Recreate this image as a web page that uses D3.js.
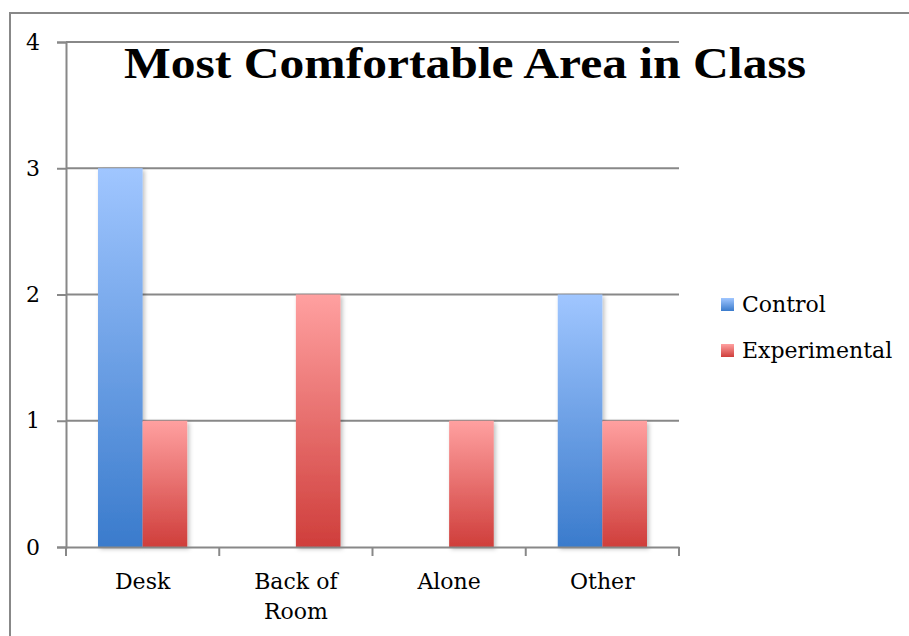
<!DOCTYPE html>
<html>
<head>
<meta charset="utf-8">
<script src="https://cdn.jsdelivr.net/npm/d3@7"></script>
<style>
  html, body { margin: 0; padding: 0; background: white; overflow: hidden; }
  svg { display: block; }
  text { font-family: "DejaVu Serif", "Liberation Serif", serif; fill: #000; }
</style>
</head>
<body>
<div id="plot"></div>
<script>
// chart data
const categories = ["Desk", "Back of Room", "Alone", "Other"];
const categoryLines = [["Desk"], ["Back of", "Room"], ["Alone"], ["Other"]];
const seriesNames = ["Control", "Experimental"];
const controlValues = [3, 0, 0, 2];
const experimentalValues = [1, 2, 1, 1];
const yTicks = [0, 1, 2, 3, 4];

const w = 909;
const h = 636;
const margin = {top: 42, right: 230, bottom: 89, left: 66};
const innerWidth = w - margin.left - margin.right;
const innerHeight = h - margin.top - margin.bottom;

const svg = d3.select("div#plot")
  .append("svg")
  .attr("width", w)
  .attr("height", h);

svg.append("rect")
  .attr("width", w)
  .attr("height", h)
  .attr("fill", "white");

// outer frame: only left and top edges are visible in the picture
svg.append("path")
  .attr("d", `M10,${h} V13 H${w}`)
  .attr("fill", "none")
  .attr("stroke", "#888")
  .attr("stroke-width", 2);

const defs = svg.append("defs");
const gradColors = {
  Control: ["#a0c6ff", "#3a7bcc"],
  Experimental: ["#ffa0a0", "#cf3e3b"]
};
seriesNames.forEach(name => {
  const gr = defs.append("linearGradient")
    .attr("id", "grad-" + name)
    .attr("x1", 0).attr("y1", 0).attr("x2", 0).attr("y2", 1);
  gr.append("stop").attr("offset", "0%").attr("stop-color", gradColors[name][0]);
  gr.append("stop").attr("offset", "100%").attr("stop-color", gradColors[name][1]);
});
const shadow = defs.append("filter").attr("id", "shadow")
  .attr("x", "-20%").attr("y", "-5%").attr("width", "150%").attr("height", "115%");
shadow.append("feDropShadow")
  .attr("dx", 2).attr("dy", 2).attr("stdDeviation", 2)
  .attr("flood-color", "#000").attr("flood-opacity", 0.25);

// scales in page coordinates
const x = d3.scaleBand()
  .domain(categories)
  .range([margin.left, margin.left + innerWidth]);

const xInner = d3.scaleBand()
  .domain(seriesNames)
  .range([32, x.bandwidth() - 32]);

const y = d3.scaleLinear()
  .domain([0, 4])
  .range([margin.top + innerHeight, margin.top]);

// gridlines
svg.selectAll(".grid")
  .data(yTicks.filter(d => d > 0))
  .enter()
  .append("line")
  .attr("x1", margin.left)
  .attr("x2", margin.left + innerWidth)
  .attr("y1", d => y(d))
  .attr("y2", d => y(d))
  .attr("stroke", "#888")
  .attr("stroke-width", 2);

// bars
const bars = [];
categories.forEach((c, i) => {
  bars.push({category: c, series: "Control", value: controlValues[i]});
  bars.push({category: c, series: "Experimental", value: experimentalValues[i]});
});

svg.selectAll(".bar")
  .data(bars.filter(d => d.value > 0))
  .enter()
  .append("rect")
  .attr("class", "bar")
  .attr("x", d => x(d.category) + xInner(d.series))
  .attr("y", d => y(d.value))
  .attr("width", xInner.bandwidth())
  .attr("height", d => y(0) - y(d.value))
  .attr("fill", d => `url(#grad-${d.series})`)
  .attr("filter", "url(#shadow)");

// y axis line and ticks
const yAxis = svg.append("g")
  .attr("transform", `translate(${margin.left},0)`)
  .call(d3.axisLeft(y).tickValues(yTicks).tickSize(9).tickFormat(""));
yAxis.select(".domain").attr("stroke", "#888").attr("stroke-width", 2);
yAxis.selectAll(".tick line").attr("stroke", "#888").attr("stroke-width", 2);
yAxis.selectAll(".tick text").remove();

svg.selectAll(".ylabel")
  .data(yTicks)
  .enter()
  .append("text")
  .attr("class", "ylabel")
  .attr("x", 33)
  .attr("y", d => y(d))
  .attr("dy", "0.35em")
  .style("text-anchor", "middle")
  .style("font-size", "22px")
  .text(d => d);

// x axis line and ticks
const xAxis = svg.append("g")
  .attr("transform", `translate(0,${y(0)})`)
  .call(d3.axisBottom(x).tickSize(0).tickFormat(""));
xAxis.select(".domain").attr("stroke", "#888").attr("stroke-width", 2);
xAxis.selectAll(".tick").remove();

svg.selectAll(".xtick")
  .data(d3.range(categories.length + 1))
  .enter()
  .append("line")
  .attr("x1", i => margin.left + i * x.step())
  .attr("x2", i => margin.left + i * x.step())
  .attr("y1", y(0))
  .attr("y2", y(0) + 9)
  .attr("stroke", "#888")
  .attr("stroke-width", 2);

categories.forEach((c, i) => {
  svg.selectAll(null)
    .data(categoryLines[i])
    .enter()
    .append("text")
    .attr("x", x(c) + x.bandwidth() / 2)
    .attr("y", (t, j) => y(0) + 42 + j * 30)
    .style("text-anchor", "middle")
    .style("font-size", "22px")
    .text(t => t);
});

// title
svg.append("text")
  .attr("x", 465)
  .attr("y", 78)
  .style("text-anchor", "middle")
  .style("font-size", "44px")
  .style("font-weight", "bold")
  .style("font-family", "Liberation Serif, serif")
  .attr("textLength", 682)
  .attr("lengthAdjust", "spacingAndGlyphs")
  .text("Most Comfortable Area in Class");

// legend
seriesNames.forEach((name, i) => {
  svg.append("rect")
    .attr("x", 721)
    .attr("y", 298 + i * 46)
    .attr("width", 13)
    .attr("height", 13)
    .attr("fill", `url(#grad-${name})`);
  svg.append("text")
    .attr("x", 742)
    .attr("y", 312 + i * 46)
    .style("font-size", "22px")
    .text(name);
});
</script>
</body>
</html>
